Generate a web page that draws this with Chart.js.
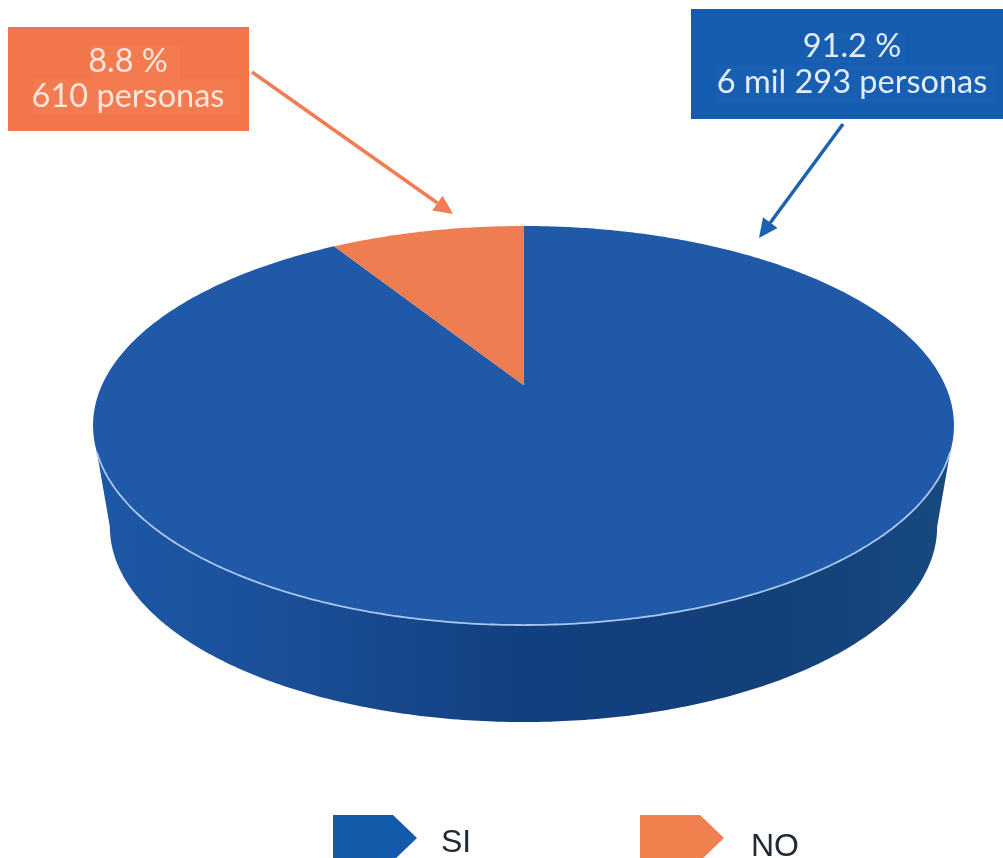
<!DOCTYPE html>
<html><head><meta charset="utf-8">
<style>html,body{margin:0;padding:0;background:#fff;overflow:hidden}canvas{display:block}</style>
<script src="https://cdn.jsdelivr.net/npm/chart.js@4"></script>
</head><body><canvas id="c" width="1003" height="858"></canvas>
<script>
const categories = ['SI', 'NO'];
const values = [6293, 610];
const sliceColors = ['#2059a8', '#ee7e52'];
const swatchColors = ['#145aab', '#f1804f'];
const calloutLines = [['91.2 %', '6 mil 293 personas'], ['8.8 %', '610 personas']];
const calloutColors = ['#145cb0', '#f3754a'];
const calloutText = ['#e3edf8', '#fde6db'];
const arrowColors = ['#1c62b0', '#f27c56'];

// perspective of the disc (top face and bottom face)
const K = 0.203;
const topFace = {cx: 523.5, cy: 385, a: 421.5, b: 191.3};
const lowFace = {cx: 523.5, cy: 487.4, a: 405, b: 187};
function project(f, phi) {
  const u = Math.cos(phi), v = Math.sin(phi), w = 1 - K * v;
  return [f.cx + f.a * u / w, f.cy + f.b * v / w];
}
function rim(ctx, f, from, to, first) {
  const n = Math.max(2, Math.ceil(Math.abs(to - from) / 0.01));
  for (let i = 0; i <= n; i++) {
    const p = project(f, from + (to - from) * i / n);
    if (i === 0 && first) ctx.moveTo(p[0], p[1]); else ctx.lineTo(p[0], p[1]);
  }
}
const disc3d = {
  id: 'disc3d',
  beforeDatasetsDraw(chart) {
    const ctx = chart.ctx, arcs = chart.getDatasetMeta(0).data;
    const edgeV = Math.asin(0.327), tanV = Math.asin(K);
    // side wall
    const g = ctx.createLinearGradient(94, 0, 950, 0);
    g.addColorStop(0, '#1d58a6'); g.addColorStop(0.22, '#1b4f98');
    g.addColorStop(0.5, '#123f80'); g.addColorStop(0.8, '#134079'); g.addColorStop(1, '#17497f');
    arcs.forEach((el) => {
      const a = Math.max(el.startAngle, edgeV), b = Math.min(el.endAngle, Math.PI - edgeV);
      if (b <= a) return;
      ctx.beginPath();
      rim(ctx, topFace, a, b, true);
      const la = a === edgeV ? tanV : a, lb = b === Math.PI - edgeV ? Math.PI - tanV : b;
      rim(ctx, lowFace, lb, la, false);
      ctx.closePath();
      ctx.fillStyle = g; ctx.fill();
    });
    // top face
    arcs.forEach((el) => {
      ctx.beginPath();
      ctx.moveTo(topFace.cx, topFace.cy);
      rim(ctx, topFace, el.startAngle, el.endAngle, false);
      ctx.closePath();
      ctx.fillStyle = el.options.backgroundColor; ctx.fill();
    });
    // highlight on front rim
    ctx.beginPath();
    rim(ctx, topFace, edgeV, Math.PI - edgeV, true);
    ctx.strokeStyle = '#a8c6ee'; ctx.lineWidth = 1.8; ctx.stroke();
    return false;
  },
  afterDraw(chart) {
    const ctx = chart.ctx;
    const boxes = [[691, 9, 312, 110], [8, 27, 241, 104]];
    const centers = [852, 128], base = [[57, 93], [72, 107]];
    const patch = ['#185fb2', '#f47a50'];
    const patches = [[[805, 33, 100, 30], [715, 65, 280, 38]], [[90, 45, 90, 34], [33, 79, 207, 36]]];
    const arrows = [[843, 124, 759, 238], [252, 72, 453, 214]];
    categories.forEach((_, i) => {
      const B = boxes[i];
      ctx.fillStyle = calloutColors[i]; ctx.fillRect(B[0], B[1], B[2], B[3]);
      ctx.fillStyle = patch[i];
      patches[i].forEach(p => ctx.fillRect(p[0], p[1], p[2], p[3]));
      ctx.fillStyle = calloutText[i];
      ctx.font = '400 32.5px Lato'; ctx.textAlign = 'center'; ctx.textBaseline = 'alphabetic';
      calloutLines[i].forEach((t, j) => ctx.fillText(t, centers[i], base[i][j]));
      // arrow
      const A = arrows[i], ang = Math.atan2(A[3] - A[1], A[2] - A[0]);
      const hl = 19, hw = 9;
      const bx = A[2] - hl * Math.cos(ang), by = A[3] - hl * Math.sin(ang);
      ctx.strokeStyle = arrowColors[i]; ctx.lineWidth = 3.5;
      ctx.beginPath(); ctx.moveTo(A[0], A[1]); ctx.lineTo(bx, by); ctx.stroke();
      ctx.fillStyle = arrowColors[i];
      ctx.beginPath(); ctx.moveTo(A[2], A[3]);
      ctx.lineTo(bx - hw * Math.sin(ang), by + hw * Math.cos(ang));
      ctx.lineTo(bx + hw * Math.sin(ang), by - hw * Math.cos(ang));
      ctx.closePath(); ctx.fill();
    });
    // legend
    const lx = [333, 640], tx = [441, 751], ty = [852, 856];
    categories.forEach((name, i) => {
      const x = lx[i];
      ctx.fillStyle = swatchColors[i];
      ctx.beginPath();
      ctx.moveTo(x, 815); ctx.lineTo(x + 60, 815); ctx.lineTo(x + 84, 838);
      ctx.lineTo(x + 60, 861); ctx.lineTo(x, 861); ctx.closePath(); ctx.fill();
      ctx.fillStyle = '#222a35';
      ctx.font = '32px "Liberation Sans"'; ctx.textAlign = 'left';
      ctx.fillText(name, tx[i], ty[i]);
    });
  }
};
new Chart(document.getElementById('c'), {
  type: 'pie',
  data: {labels: categories, datasets: [{data: values, backgroundColor: sliceColors, borderWidth: 0}]},
  options: {
    responsive: false, animation: false,
    plugins: {legend: {display: false}, tooltip: {enabled: false}}
  },
  plugins: [disc3d]
});
</script></body></html>
